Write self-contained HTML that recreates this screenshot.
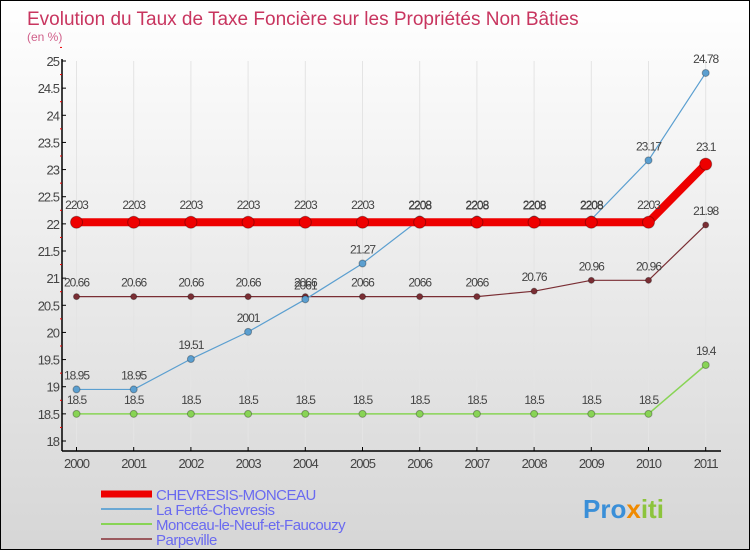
<!DOCTYPE html>
<html><head><meta charset="utf-8"><style>
body{margin:0;}
#c{width:750px;height:550px;position:relative;background:linear-gradient(#ffffff,#d6d6d6);border:1px solid #000;box-sizing:border-box;overflow:hidden;font-family:"Liberation Sans",sans-serif;}
</style></head><body>
<div id="c">
<svg id="s" width="750" height="550"></svg>
</div>
<script>
const years=["2000","2001","2002","2003","2004","2005","2006","2007","2008","2009","2010","2011"];
const chevresis=[22.03,22.03,22.03,22.03,22.03,22.03,22.03,22.03,22.03,22.03,22.03,23.1];
const ferte=[18.95,18.95,19.51,20.01,20.61,21.27,22.08,22.08,22.08,22.08,23.17,24.78];
const monceau=[18.5,18.5,18.5,18.5,18.5,18.5,18.5,18.5,18.5,18.5,18.5,19.4];
const parpe=[20.66,20.66,20.66,20.66,20.66,20.66,20.66,20.66,20.76,20.96,20.96,21.98];
const chevLabels=["2203","2203","2203","2203","2203","2203","2208","2208","2208","2208","2203","23.1"];
const ferteLabels=["18.95","18.95","19.51","2001","2061","21.27","2208","2208","2208","2208","23.17","24.78"];
const monLabels=["18.5","18.5","18.5","18.5","18.5","18.5","18.5","18.5","18.5","18.5","18.5","19.4"];
const parLabels=["20.66","20.66","20.66","20.66","2066","2066","2066","2066","20.76","20.96","20.96","21.98"];
const yTicks=[18,18.5,19,19.5,20,20.5,21,21.5,22,22.5,23,23.5,24,24.5,25];
const NS="http://www.w3.org/2000/svg",s=document.getElementById('s');
const X=i=>75.5+i*57.2, Y=v=>440-(v-18)*(380/7);
function el(t,a,n,txt){const e=document.createElementNS(NS,t);for(const k in a)e.setAttribute(k,a[k]);


if(txt!==undefined)e.textContent=txt;s.appendChild(e);return e;}
el('text',{x:26,y:24,fill:'#c8355f','font-size':19},'title','Evolution du Taux de Taxe Foncière sur les Propriétés Non Bâties');
el('text',{x:26,y:40,fill:'#d0608a','font-size':12},'y-unit','(en %)');
for(let i=0;i<years.length;i++)el('line',{x1:X(i),x2:X(i),y1:60,y2:450,stroke:'#e4e4e4'},'grid-v');
el('line',{x1:61,x2:61,y1:58,y2:450,stroke:'#000','stroke-width':1.5},'y-axis');
el('line',{x1:61,x2:720,y1:450,y2:450,stroke:'#000','stroke-width':1.5},'x-axis');
yTicks.forEach(v=>{el('line',{x1:61,x2:65,y1:Y(v),y2:Y(v),stroke:'#000'},'y-tick');
el('line',{x1:59,x2:61,y1:Y(v+0.25),y2:Y(v+0.25),stroke:'#e00'},'y-minor-tick');
el('text',{x:58,y:Y(v)+5,'text-anchor':'end','font-size':13,fill:'#444','letter-spacing':'-1'},'y-tick-label',String(v));});
years.forEach((y,i)=>{el('line',{x1:X(i),x2:X(i),y1:446,y2:450,stroke:'#000'},'x-tick');
el('text',{x:X(i),y:467,'text-anchor':'middle','font-size':13,fill:'#444','letter-spacing':'-1'},'x-tick-label',y);});
function series(d,lab,col,w,r,name,dy){
el('polyline',{points:d.map((v,i)=>X(i)+','+Y(v)).join(' '),fill:'none',stroke:col,'stroke-width':w,'stroke-linejoin':'round'},name+'-line');
d.forEach((v,i)=>{el('circle',{cx:X(i),cy:Y(v),r:r,fill:col,stroke:'rgba(0,0,0,0.3)'},name+'-point');
el('text',{x:X(i),y:Y(v)+dy,'text-anchor':'middle','font-size':12,fill:'#444','letter-spacing':'-1'},name+'-value',lab[i]);});}
series(monceau,monLabels,'#88d455',1.5,3.5,'monceau',-10);
series(parpe,parLabels,'#7a2e34',1.2,3,'parpeville',-10);
series(ferte,ferteLabels,'#5b9fd0',1.2,3.5,'la-ferte',-10);
series(chevresis,chevLabels,'#ee0000',8,6,'chevresis',-13);
const leg=[['CHEVRESIS-MONCEAU','#ee0000',7],['La Ferté-Chevresis','#6aa8d4',2],['Monceau-le-Neuf-et-Faucouzy','#88d455',2],['Parpeville','#9b5a5f',2]];
leg.forEach((l,i)=>{const y=493+i*15;el('line',{x1:100,x2:151,y1:y,y2:y,stroke:l[1],'stroke-width':l[2]},'legend-swatch');
el('text',{x:155,y:y+6,'font-size':15,fill:'#6a6af0','letter-spacing':'-0.5'},'legend-label',l[0]);});
const lg=el('text',{x:582,y:517,'font-size':26,'font-weight':'bold'},'logo');
[['Pro','#3a8fd8'],['x','#f08a00'],['iti','#8cc43c']].forEach(p=>{const t=document.createElementNS(NS,'tspan');t.setAttribute('fill',p[1]);t.textContent=p[0];lg.appendChild(t);});
</script>
</body></html>
